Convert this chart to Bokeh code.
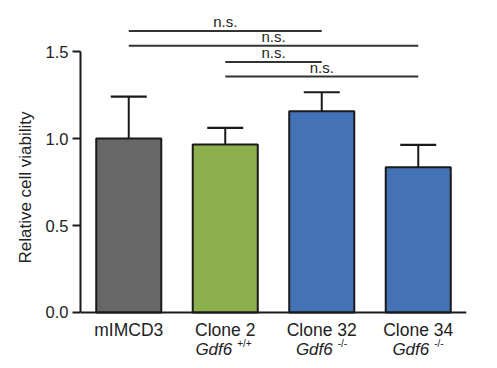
from bokeh.plotting import figure
from bokeh.models import (FactorRange, Range1d, ColumnDataSource, Whisker, TeeHead,
                          FixedTicker, NumeralTickFormatter)
from bokeh.embed import file_html
from bokeh.resources import INLINE
from bokeh.core.properties import value

# ---- data ----
categories = ["mIMCD3", "Clone 2", "Clone 32", "Clone 34"]
genotypes = ["", "Gdf6", "Gdf6", "Gdf6"]
genotype_sup = ["", "+/+", "-/-", "-/-"]
viability = [1.00, 0.966, 1.157, 0.835]
sem = [0.241, 0.095, 0.109, 0.129]
colors = ["#676767", "#8db04e", "#4472b6", "#4472b6"]

# significance comparisons
sig_from = ["mIMCD3", "mIMCD3", "Clone 2", "Clone 2"]
sig_to = ["Clone 32", "Clone 34", "Clone 32", "Clone 34"]
sig_y = [1.618, 1.534, 1.440, 1.356]
sig_text = ["n.s.", "n.s.", "n.s.", "n.s."]
y_ticks = [0.0, 0.5, 1.0, 1.5]

FONT = "Liberation Sans"
INK = "#222222"

p = figure(width=482, height=364, output_backend="svg", toolbar_location=None,
           x_range=FactorRange(factors=categories, range_padding=0),
           y_range=Range1d(-0.276, 1.713),
           min_border_left=80, min_border_right=16, min_border_top=14,
           min_border_bottom=4)
p.outline_line_color = None
p.grid.visible = False

src = ColumnDataSource(dict(cat=categories, v=viability, color=colors,
                            up=[a + b for a, b in zip(viability, sem)]))
p.vbar(x="cat", top="v", width=0.674, source=src, fill_color="color",
       line_color="#1a1a1a", line_width=2)

p.add_layout(Whisker(base="cat", lower="v", upper="up", source=src,
                     line_color="#1a1a1a", line_width=2,
                     lower_head=None,
                     upper_head=TeeHead(size=36, line_color="#1a1a1a", line_width=2.2)))

# significance bars
p.segment(x0=sig_from, x1=sig_to, y0=sig_y, y1=sig_y, line_color="#333333", line_width=2)
mid = [(categories.index(a) + categories.index(b)) / 2 + 0.5 for a, b in zip(sig_from, sig_to)]
p.text(x=mid, y=sig_y, text=sig_text, text_font=value(FONT), text_font_size="15px",
       text_align="center", text_baseline="bottom", y_offset=-1, text_color=INK)

# y axis
ax = p.yaxis[0]
ax.bounds = (0, 1.5)
ax.ticker = FixedTicker(ticks=y_ticks)
ax.formatter = NumeralTickFormatter(format="0.0")
ax.minor_tick_line_color = None
ax.major_tick_out = 8
ax.major_tick_in = 0
ax.axis_line_width = 2
ax.major_tick_line_width = 2
ax.axis_line_color = "#1a1a1a"
ax.major_tick_line_color = "#1a1a1a"
ax.major_label_text_font = FONT
ax.major_label_text_font_size = "16.5px"
ax.major_label_text_color = INK
ax.major_label_standoff = 4
ax.axis_label = "Relative cell viability"
ax.axis_label_text_font = FONT
ax.axis_label_text_font_style = "normal"
ax.axis_label_text_font_size = "17px"
ax.axis_label_text_color = INK
ax.axis_label_standoff = 8

# x axis, drawn at y = 0
xa = p.xaxis[0]
xa.fixed_location = 0
xa.axis_line_width = 2
xa.axis_line_color = "#1a1a1a"
xa.major_tick_line_color = None
xa.minor_tick_line_color = None
xa.major_label_text_font = FONT
xa.major_label_text_font_size = "17.5px"
xa.major_label_text_color = INK
xa.major_label_standoff = 2
xa.major_label_orientation = "horizontal"

# second line of category labels (italic gene name + superscript genotype)
sup_shift = [0, 7, 11, 11]
gx = [i + 0.5 for i, g in enumerate(genotypes) if g]
gt = [g for g in genotypes if g]
st = [s for g, s in zip(genotypes, genotype_sup) if g]
sh = [sup_shift[i] for i, g in enumerate(genotypes) if g]
gsrc = ColumnDataSource(dict(x=gx, y=[-0.213] * len(gx), g=gt, s=st, off=sh,
                             off2=[o + 5 for o in sh]))
p.text(x="x", y="y", text="g", source=gsrc, x_offset="off", text_font=value(FONT),
       text_font_size="17px", text_font_style="italic", text_align="right",
       text_baseline="alphabetic", text_color=INK)
p.text(x="x", y="y", text="s", source=gsrc, x_offset="off2", y_offset=-6,
       text_font=value(FONT), text_font_size="10px", text_align="left",
       text_baseline="alphabetic", text_color=INK)

open("out.html", "w").write(file_html(p, INLINE))
